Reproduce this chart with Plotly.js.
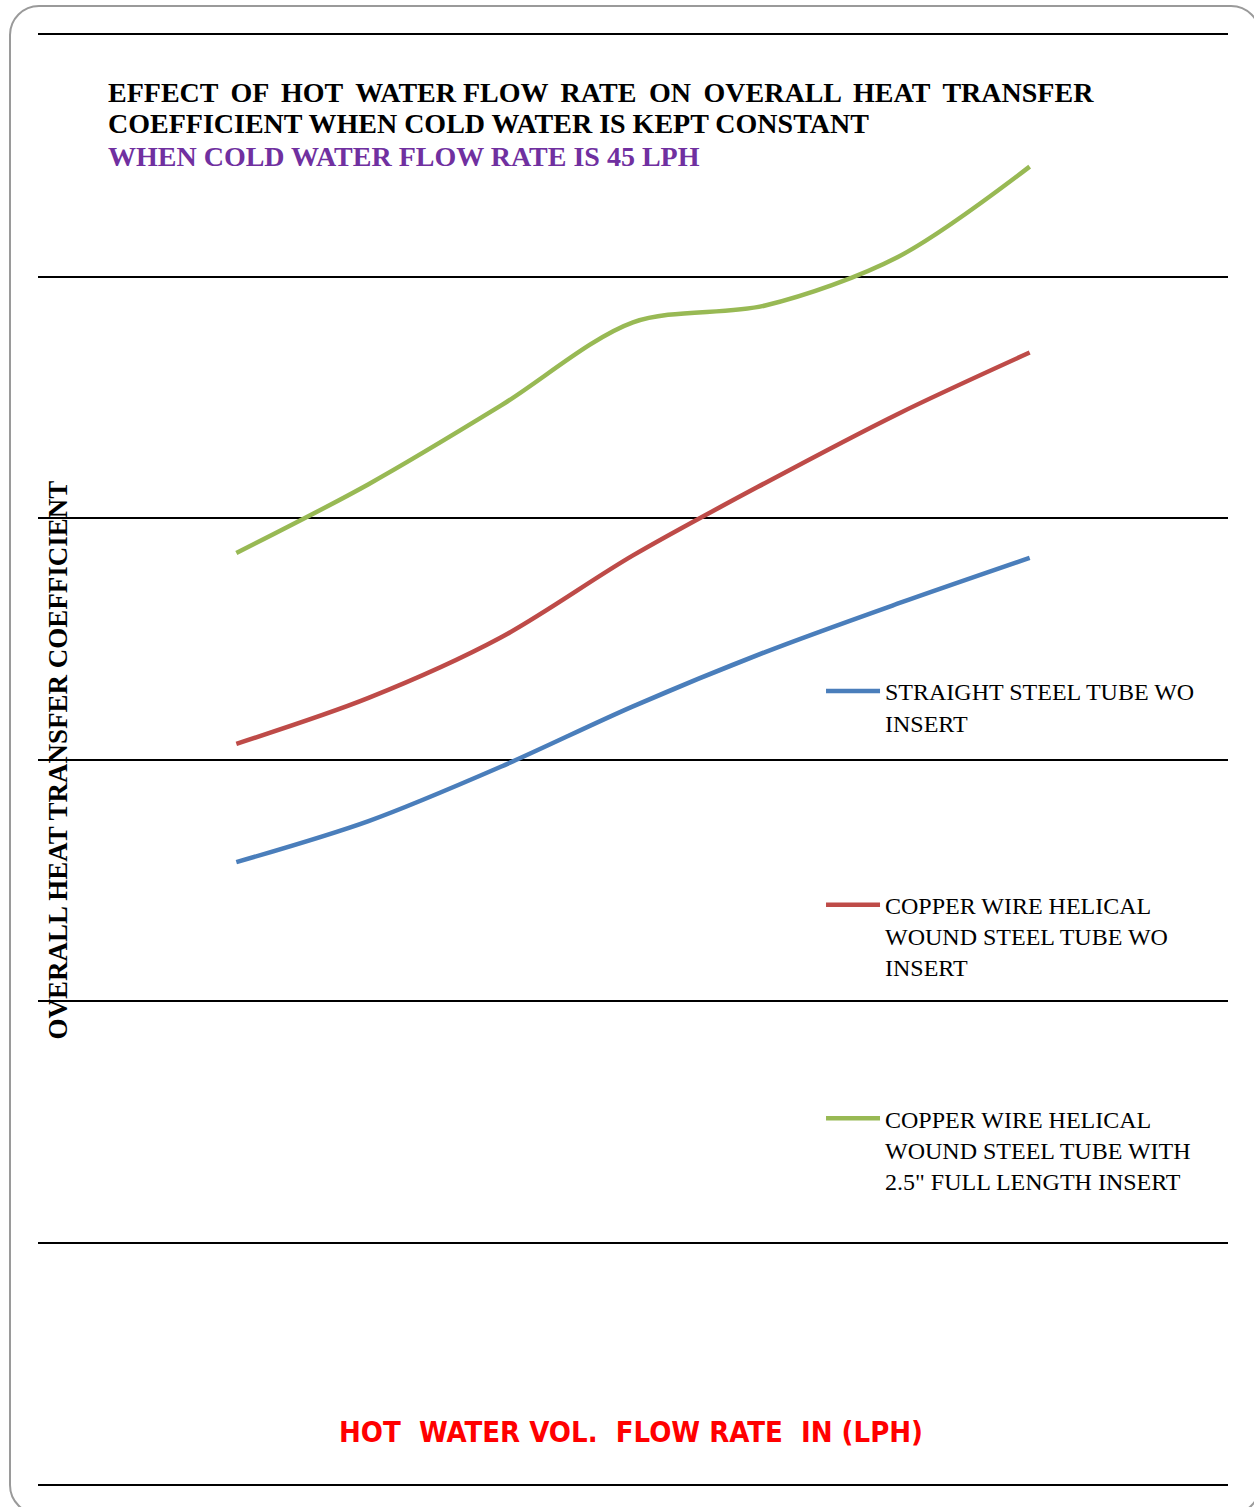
<!DOCTYPE html>
<html>
<head>
<meta charset="utf-8">
<script src="https://cdn.plot.ly/plotly-3.0.1.min.js"></script>
<style>
  html, body { margin: 0; padding: 0; background: #fff; overflow: hidden; }
  #wrap { position: relative; width: 1254px; height: 1507px; overflow: hidden; }
  #chart { position: absolute; left: 0; top: 0; width: 1254px; height: 1507px; }
  #frame {
    position: absolute; left: 9px; top: 5px; width: 1252px; height: 1510px;
    border: 2px solid #9a9a9a; border-radius: 30px; box-sizing: border-box;
    pointer-events: none;
  }
</style>
</head>
<body>
<div id="wrap">
  <div id="chart"></div>
  <div id="frame"></div>
</div>
<script>
// Test runs at increasing hot-water flow rate (evenly spaced on the chart)
const runs = [1, 2, 3, 4, 5, 6, 7];

// Overall heat transfer coefficient for each tube configuration
const straightTube = [515, 549, 594, 644, 689, 729, 767];
const helicalTube = [613, 651, 701, 769, 829, 886, 937];
const helicalWithInsert = [771, 828, 893, 962, 976, 1016, 1091];

const seriesNames = [
  'STRAIGHT STEEL TUBE WO<br>INSERT<br>&nbsp;',
  'COPPER WIRE HELICAL<br>WOUND STEEL TUBE WO<br>INSERT',
  'COPPER WIRE HELICAL<br>WOUND STEEL TUBE WITH<br>2.5" FULL LENGTH INSERT'
];
const seriesColors = ['#4A7EBB', '#BE4B48', '#98B954'];
const seriesValues = [straightTube, helicalTube, helicalWithInsert];

// first title line is set justified: word gaps get an extra thin space
const titleLines = [
  'EFFECT \u2009OF \u2009HOT \u2009WATER FLOW \u2009RATE \u2009ON \u2009OVERALL \u2009HEAT \u2009TRANSFER',
  'COEFFICIENT WHEN COLD WATER IS KEPT CONSTANT',
  'WHEN COLD WATER FLOW RATE IS 45 LPH'
];
const titleColors = ['#000000', '#000000', '#7030A0'];
const yTitle = 'OVERALL HEAT TRANSFER COEFFICIENT';
const xTitle = 'HOT  WATER VOL.  FLOW RATE  IN (LPH)';

const serif = 'Liberation Serif, Times New Roman, serif';

const traces = seriesValues.map((vals, i) => ({
  x: runs,
  y: vals,
  type: 'scatter',
  mode: 'lines',
  name: seriesNames[i],
  legendgroup: 'g' + i,
  line: { color: seriesColors[i], width: 4.5, shape: 'spline', smoothing: 0.9 },
  hoverinfo: 'skip'
}));

// plot area spans 35px..1484px vertically; convert a page row to paper units
const rowToPaper = py => (1484 - py) / 1449;

const titleAnnotations = titleLines.map((t, i) => ({
  text: t,
  xref: 'paper', yref: 'paper',
  x: 0.0571, xanchor: 'left',
  y: rowToPaper(92 + 32 * i), yanchor: 'middle',
  showarrow: false,
  font: { family: serif, size: 28, weight: 700, color: titleColors[i] }
}));

const layout = {
  width: 1254,
  height: 1507,
  margin: { l: 38, r: 26, t: 35, b: 23 },
  paper_bgcolor: 'rgba(0,0,0,0)',
  plot_bgcolor: 'rgba(0,0,0,0)',
  showlegend: true,
  xaxis: {
    range: [-0.5, 8.5],
    showgrid: false,
    zeroline: false,
    showticklabels: false,
    ticks: '',
    showline: true,
    mirror: true,
    linecolor: '#000',
    linewidth: 2
  },
  yaxis: {
    range: [0, 1200],
    dtick: 200,
    tick0: 0,
    showgrid: true,
    gridcolor: '#000',
    gridwidth: 2,
    zeroline: false,
    showticklabels: false,
    ticks: '',
    showline: false
  },
  legend: {
    x: 0.658, xanchor: 'left',
    y: 0.5625, yanchor: 'top',
    bgcolor: 'rgba(0,0,0,0)',
    borderwidth: 0,
    traceorder: 'grouped',
    tracegroupgap: 117,
    valign: 'top',
    itemwidth: 54,
    font: { family: serif, size: 24, color: '#000' }
  },
  annotations: titleAnnotations.concat([
    {
      text: yTitle,
      xref: 'paper', yref: 'paper', x: 0.0168, y: 0.5,
      xanchor: 'center', yanchor: 'middle', textangle: -90,
      showarrow: false,
      font: { family: serif, size: 27, weight: 700, color: '#000' }
    },
    {
      text: xTitle,
      xref: 'paper', yref: 'paper', x: 0.4985, y: rowToPaper(1432),
      xanchor: 'center', yanchor: 'middle',
      showarrow: false,
      font: { family: 'DejaVu Sans Condensed, Liberation Sans Narrow, Arial Narrow, sans-serif', size: 29, weight: 700, color: '#FF0000' }
    }
  ])
};

Plotly.newPlot('chart', traces, layout, { staticPlot: true, displayModeBar: false });
</script>
</body>
</html>
